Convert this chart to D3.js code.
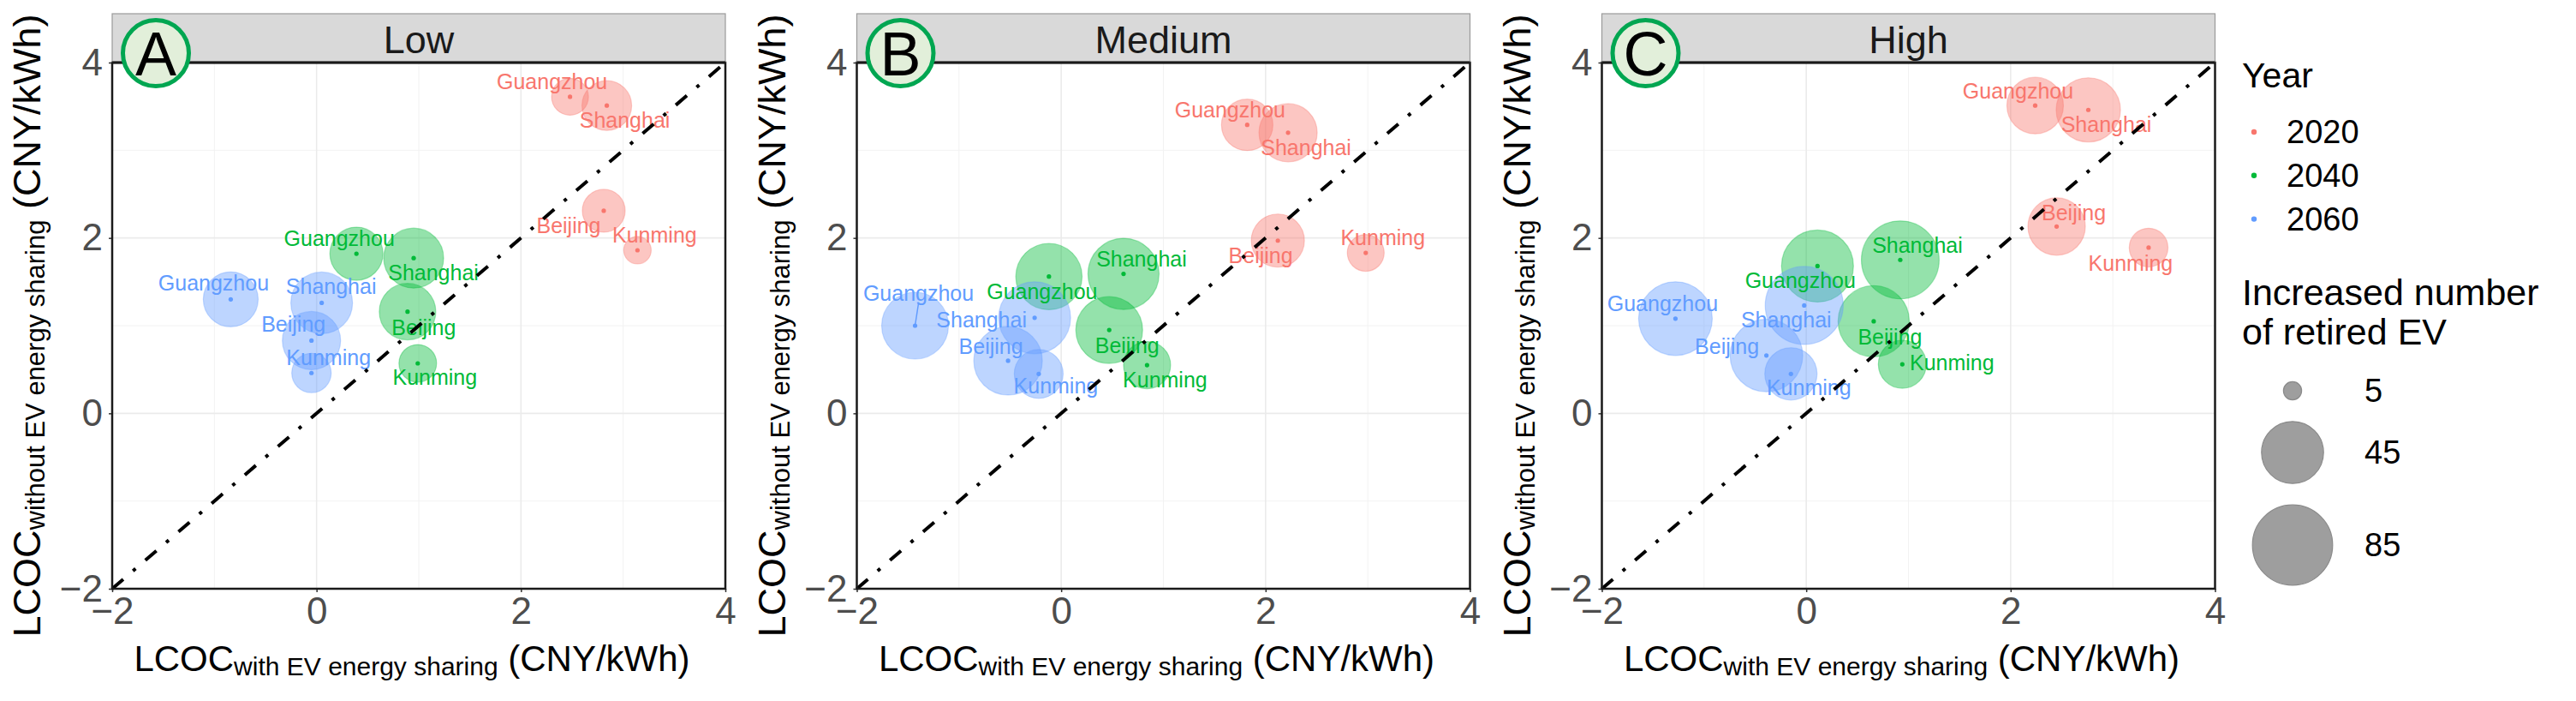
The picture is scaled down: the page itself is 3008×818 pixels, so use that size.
<!DOCTYPE html>
<html>
<head>
<meta charset="utf-8">
<script src="https://cdn.jsdelivr.net/npm/d3@7"></script>
<style>
  body { margin: 0; background: #fff; }
  text { font-family: "Liberation Sans", Arial, sans-serif; }
</style>
</head>
<body>
<script>
// Categories
const scenarios = ["Low", "Medium", "High"];
const badges = ["A", "B", "C"];
const years = ["2020", "2040", "2060"];
const cities = ["Beijing", "Shanghai", "Guangzhou", "Kunming"];
const yearColors = ["#F8766D", "#00BA38", "#619CFF"];
const axisTicks = [-2, 0, 2, 4];
const minorTicks = [-1, 1, 3];
const refLine = [-2, 4];
const sizeBreaks = [5, 45, 85];

// Values, rows = year (2020, 2040, 2060) x city (Beijing, Shanghai, Guangzhou, Kunming)
const lowWith = [2.81, 2.84, 2.48, 3.14,  0.89, 0.95, 0.39, 0.99,  -0.05, 0.05, -0.84, -0.05];
const lowWithout = [2.31, 3.51, 3.61, 1.86,  1.16, 1.77, 1.82, 0.57,  0.83, 1.26, 1.30, 0.46];
const lowRetired = [17.7, 25.7, 12.3, 6.8,  35.6, 41.3, 30.4, 12.9,  38.4, 44.4, 33.0, 14.4];

const mediumWith = [2.12, 2.22, 1.82, 2.98,  0.47, 0.61, -0.12, 0.84,  -0.52, -0.26, -1.43, -0.22];
const mediumWithout = [1.97, 3.20, 3.29, 1.83,  0.95, 1.59, 1.56, 0.55,  0.60, 1.09, 1.00, 0.45];
const mediumRetired = [30.4, 38.4, 28.0, 12.3,  54.2, 63.3, 53.2, 22.4,  57.8, 65.2, 54.2, 24.6];

const highWith = [2.45, 2.76, 2.24, 3.35,  0.66, 0.92, 0.11, 0.94,  -0.39, -0.02, -1.28, -0.15];
const highWithout = [2.13, 3.46, 3.51, 1.89,  1.05, 1.75, 1.68, 0.56,  0.66, 1.23, 1.08, 0.45];
const highRetired = [37.0, 49.2, 35.6, 13.8,  63.7, 78.9, 65.2, 23.5,  66.7, 79.4, 69.1, 29.2];

// Label placement (pixel offsets from each point, like ggrepel output)
const lowLabelOff = [[-41,26],[21,26],[-21,-9],[20,-9], [19,27],[23,26],[-20,-9],[20,25], [-21,-10],[11,-10],[-20,-10],[20,-9]];
const mediumLabelOff = [[-20,26],[21,26],[-20,-9],[20,-9], [21,27],[21,-9],[-8,26],[21,26], [-20,-8],[-62,11],[4,-29],[20,23]];
const highLabelOff = [[20,-7],[21,26],[-20,-8],[-21,27], [19,27],[20,-8],[-20,26],[58,7], [-46,-2],[-21,26],[-15,-9],[21,25]];

const panelX = [lowWith, mediumWith, highWith];
const panelY = [lowWithout, mediumWithout, highWithout];
const panelN = [lowRetired, mediumRetired, highRetired];
const panelOff = [lowLabelOff, mediumLabelOff, highLabelOff];

// Layout
const W = 3008, H = 818;
const panelLefts = [131, 1000.5, 1870.5];
const panelW = 716;
const pTop = 73, pBottom = 687, stripTop = 16;

const svg = d3.select("body").append("svg")
  .attr("width", W).attr("height", H);

// size scale: radius linear in sqrt of rescaled value (ggplot scale_size style)
const sizeNorm = d3.scaleLinear().domain([5, 85]).range([0, 1]).clamp(true);
const sizeR = d3.scaleLinear().domain([0, 1]).range([10.6, 46.8]);
const radius = v => sizeR(Math.sqrt(sizeNorm(v)));

scenarios.forEach((sc, p) => {
  const left = panelLefts[p];
  const x = d3.scaleLinear().domain([-2, 4]).range([left, left + panelW]);
  const y = d3.scaleLinear().domain([-2, 4]).range([pBottom, pTop]);
  const g = svg.append("g");

  // grid
  g.append("g").selectAll("line.vminor").data(minorTicks).join("line")
    .attr("x1", d => x(d)).attr("x2", d => x(d)).attr("y1", pTop).attr("y2", pBottom)
    .attr("stroke", "#F2F2F2").attr("stroke-width", 1);
  g.append("g").selectAll("line.hminor").data(minorTicks).join("line")
    .attr("y1", d => y(d)).attr("y2", d => y(d)).attr("x1", left).attr("x2", left + panelW)
    .attr("stroke", "#F2F2F2").attr("stroke-width", 1);
  g.append("g").selectAll("line.vmajor").data(axisTicks).join("line")
    .attr("x1", d => x(d)).attr("x2", d => x(d)).attr("y1", pTop).attr("y2", pBottom)
    .attr("stroke", "#EBEBEB").attr("stroke-width", 1.6);
  g.append("g").selectAll("line.hmajor").data(axisTicks).join("line")
    .attr("y1", d => y(d)).attr("y2", d => y(d)).attr("x1", left).attr("x2", left + panelW)
    .attr("stroke", "#EBEBEB").attr("stroke-width", 1.6);

  // axes
  const ax = g.append("g").attr("transform", `translate(0,${pBottom})`)
    .call(d3.axisBottom(x).tickValues(axisTicks).tickSize(4).tickPadding(6).tickFormat(d3.format("d")));
  const ay = g.append("g").attr("transform", `translate(${left},0)`)
    .call(d3.axisLeft(y).tickValues(axisTicks).tickSize(4).tickPadding(7).tickFormat(d3.format("d")));
  [ax, ay].forEach(a => {
    a.select(".domain").remove();
    a.selectAll(".tick line").attr("stroke", "#333").attr("stroke-width", 1.5);
    a.selectAll(".tick text").attr("fill", "#4D4D4D").style("font-size", "44px")
      .style("font-family", "'Liberation Sans', Arial, sans-serif");
  });

  // data
  const rows = panelX[p].map((v, i) => ({
    x: v, y: panelY[p][i], n: panelN[p][i],
    year: Math.floor(i / 4), city: cities[i % 4], off: panelOff[p][i]
  }));

  g.append("g").selectAll("circle").data(rows).join("circle")
    .attr("cx", d => x(d.x)).attr("cy", d => y(d.y)).attr("r", d => radius(d.n))
    .attr("fill", d => yearColors[d.year]).attr("fill-opacity", 0.42)
    .attr("stroke", d => yearColors[d.year]).attr("stroke-opacity", 0.35).attr("stroke-width", 1.2);

  g.append("g").selectAll("circle").data(rows).join("circle")
    .attr("cx", d => x(d.x)).attr("cy", d => y(d.y)).attr("r", 2.6)
    .attr("fill", d => yearColors[d.year]);

  // repel segments for far-off labels
  g.append("g").selectAll("line").data(rows.filter(d => Math.abs(d.off[0]) < 10 && d.off[1] < -20)).join("line")
    .attr("x1", d => x(d.x)).attr("y1", d => y(d.y))
    .attr("x2", d => x(d.x) + d.off[0]).attr("y2", d => y(d.y) + d.off[1] + 3)
    .attr("stroke", d => yearColors[d.year]).attr("stroke-width", 1.5);

  g.append("g").selectAll("text").data(rows).join("text")
    .attr("x", d => x(d.x) + d.off[0]).attr("y", d => y(d.y) + d.off[1])
    .attr("text-anchor", "middle").attr("fill", d => yearColors[d.year])
    .style("font-size", "25px").text(d => d.city);

  // 1:1 reference line
  g.append("path").datum(refLine)
    .attr("fill", "none").attr("stroke", "#000").attr("stroke-width", 4)
    .attr("stroke-dasharray", "17 15 4 15")
    .attr("d", d3.line().x(d => x(d)).y(d => y(d)));

  // panel border
  g.append("rect").attr("x", left).attr("y", pTop).attr("width", panelW).attr("height", pBottom - pTop)
    .attr("fill", "none").attr("stroke", "#1A1A1A").attr("stroke-width", 2.5);

  // strip
  g.append("rect").attr("x", left).attr("y", stripTop).attr("width", panelW).attr("height", pTop - stripTop - 1)
    .attr("fill", "#D9D9D9").attr("stroke", "#9A9A9A").attr("stroke-width", 1.2);
  g.append("line").attr("x1", left).attr("x2", left + panelW).attr("y1", pTop).attr("y2", pTop)
    .attr("stroke", "#1A1A1A").attr("stroke-width", 3);
  g.append("text").attr("x", left + panelW / 2).attr("y", 62).attr("text-anchor", "middle")
    .attr("fill", "#1A1A1A").style("font-size", "45px").text(sc);

  // badge
  g.append("circle").attr("cx", left + 51).attr("cy", 62).attr("r", 38.5)
    .attr("fill", "#E2EFDA").attr("stroke", "#00A651").attr("stroke-width", 5);
  g.append("text").attr("x", left + 51).attr("y", 88).attr("text-anchor", "middle")
    .attr("fill", "#000").style("font-size", "72px").text(badges[p]);

  // x title
  const xt = g.append("text").attr("x", left + panelW / 2 - 8).attr("y", 783)
    .attr("text-anchor", "middle").attr("fill", "#000").style("font-size", "42px");
  xt.append("tspan").text("LCOC");
  xt.append("tspan").attr("dy", 5).style("font-size", "30px").text("with EV energy sharing");
  xt.append("tspan").attr("dy", -5).text(" (CNY/kWh)");

  // y title
  const yt = g.append("text").attr("transform", `translate(${left - 84},${(pTop + pBottom) / 2}) rotate(-90)`)
    .attr("text-anchor", "middle").attr("fill", "#000").style("font-size", "45px");
  yt.append("tspan").text("LCOC");
  yt.append("tspan").attr("dy", 5).style("font-size", "31px").text("without EV energy sharing");
  yt.append("tspan").attr("dy", -5).text(" (CNY/kWh)");
});

// Legend: year
const lg = svg.append("g");
lg.append("text").attr("x", 2618).attr("y", 102).style("font-size", "41px").attr("fill", "#000").text("Year");
const yearY = d3.scalePoint().domain(years).range([154, 255.6]);
lg.selectAll("circle.yr").data(years).join("circle")
  .attr("cx", 2632).attr("cy", d => yearY(d)).attr("r", 3.2)
  .attr("fill", (d, i) => yearColors[i]);
lg.selectAll("text.yr").data(years).join("text")
  .attr("x", 2670).attr("y", d => yearY(d)).attr("dy", "0.35em")
  .style("font-size", "38px").attr("fill", "#000").text(d => d);

// Legend: size
lg.append("text").attr("x", 2618).attr("y", 356).style("font-size", "43px").attr("fill", "#000").text("Increased number");
lg.append("text").attr("x", 2618).attr("y", 402).style("font-size", "43px").attr("fill", "#000").text("of retired EV");
const sizeY = d3.scaleOrdinal().domain(sizeBreaks).range([456, 528, 636]);
lg.selectAll("circle.sz").data(sizeBreaks).join("circle")
  .attr("cx", 2677).attr("cy", d => sizeY(d)).attr("r", d => radius(d))
  .attr("fill", "#9E9E9E").attr("stroke", "#8A8A8A").attr("stroke-width", 1.2);
lg.selectAll("text.sz").data(sizeBreaks).join("text")
  .attr("x", 2761).attr("y", d => sizeY(d)).attr("dy", "0.35em")
  .style("font-size", "38px").attr("fill", "#000").text(d => d);
</script>
</body>
</html>
